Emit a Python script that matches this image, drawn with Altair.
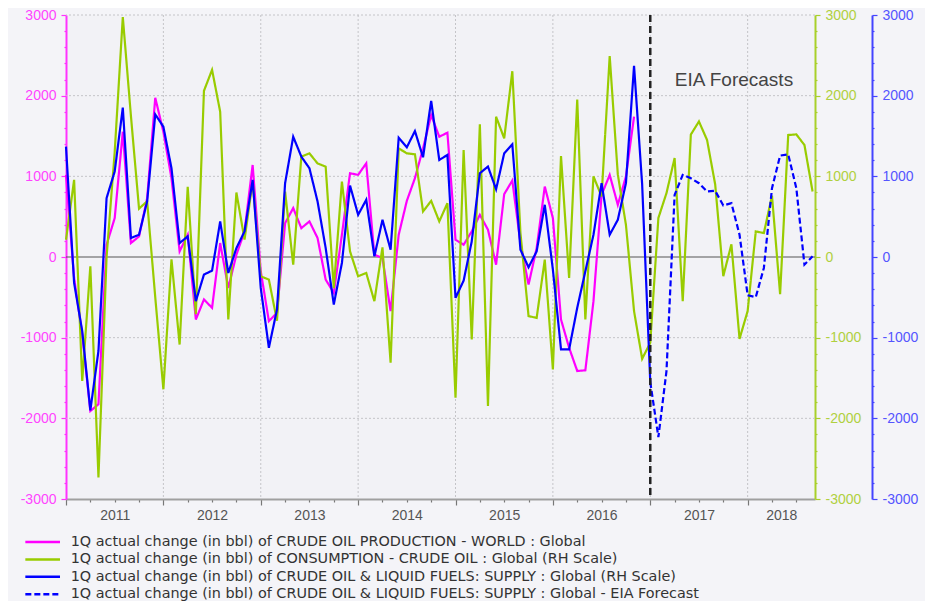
import altair as alt
import pandas as pd

# month index 0 = Jan 2011
production = [1018, -260, -960, -1910, -1825, 152, 482, 1553, 173, 255,
              729, 1973, 1553, 977, 70, 276, -775, -527, -630, 173,
              -383, 29, 317, 1141, -177, -795, -692, 420, 606, 358,
              441, 235, -280, -445, 276, 1038, 1018, 1162, 29, -12,
              -672, 276, 696, 977, 1347, 1759, 1491, 1541, 214, 152,
              317, 523, 338, -95, 779, 948, 173, -342, 111, 873,
              482, -775, -1125, -1413, -1405, -548, 770, 1018, 647, 997,
              1739]
consumption = [214, 956, -1537, -115, -2732, 0, 1300, 2975, 1750, 600,
               690, -500, -1640, -30, -1085, 870, -710, 2060, 2320, 1800,
               -775, 800, 215, 935, -240, -280, -790, 810, -95, 1245,
               1285, 1160, 1120, -385, 935, 70, -239, -198, -548, 119,
               -1310, 1347, 1285, 1273, 564, 696, 441, 667, -1743, 1327,
               -1022, 1644, -1846, 1739, 1471, 2303, 300, -733, -754, -33,
               -1393, 1252, -260, 1953, -775, 1000, 750, 2490, 1024, 400,
               -670, -1262, -1063, 484, 793, 1226, -547, 1518, 1680, 1450,
               900, -237, 158, -1015, -670, 317, 297, 760, -460, 1512,
               1520, 1388, 812]
supply = [1368, -321, -919, -1900, -1165, 730, 1060, 1852, 235, 276,
          690, 1768, 1615, 1100, 173, 255, -548, -218, -169, 440,
          -198, 111, 317, 956, -383, -1125, -651, 915, 1491, 1244,
          1100, 688, 111, -589, -74, 886, 523, 709, 8, 461,
          91, 1479, 1360, 1561, 1236, 1936, 1203, 1265, -507, -293,
          194, 1038, 1121, 840, 1285, 1397, 91, -128, 70, 647,
          -157, -1145, -1145, -630, -177, 276, 915, 276, 461, 915,
          2369, 900, -1550]
forecast_start = 72
supply_forecast = [-1550, -2233, -1413, 770, 1018, 976, 915, 812, 820, 639,
                   667, 276, -474, -498, -136, 853, 1257, 1273, 853, -95, 8]

series_names = [
    "1Q actual change (in bbl) of CRUDE OIL PRODUCTION - WORLD : Global",
    "1Q actual change (in bbl) of CONSUMPTION - CRUDE OIL : Global (RH Scale)",
    "1Q actual change (in bbl) of CRUDE OIL & LIQUID FUELS: SUPPLY : Global (RH Scale)",
    "1Q actual change (in bbl) of CRUDE OIL & LIQUID FUELS: SUPPLY : Global - EIA Forecast",
]
series_colors = ["#ff00ff", "#99cc00", "#0000ff", "#0000ff"]
series_dashes = [[1, 0], [1, 0], [1, 0], [6, 3]]

annotation_text = ["EIA Forecasts"]
annotation_t = [2017.86]
annotation_v = [2200]
forecast_line_t = [2017.0]
grid_years = [2012, 2013, 2014, 2015, 2016, 2017, 2018]
grid_values = [-2000, -1000, 1000, 2000, 3000]

START = 2011


def to_t(i):
    return START + i / 12.0


rows = []
for i, v in enumerate(production):
    rows.append({"t": to_t(i), "value": v, "series": series_names[0]})
for i, v in enumerate(consumption):
    rows.append({"t": to_t(i), "value": v, "series": series_names[1]})
for i, v in enumerate(supply):
    rows.append({"t": to_t(i), "value": v, "series": series_names[2]})
for k, v in enumerate(supply_forecast):
    rows.append({"t": to_t(forecast_start + k), "value": v, "series": series_names[3]})
df = pd.DataFrame(rows)

ann_df = pd.DataFrame({"t": annotation_t, "value": annotation_v, "text": annotation_text})
fl_df = pd.DataFrame({"t": forecast_line_t})
zero_df = pd.DataFrame({"value": [0]})
vgrid_df = pd.DataFrame({"t": grid_years})
hgrid_df = pd.DataFrame({"value": grid_values})

FONT = "Liberation Sans"
LEGEND_FONT = "DejaVu Sans"

x_vals = [START + q / 4 for q in range(31)]
x_axis = alt.Axis(
    values=x_vals,
    labelExpr="(datum.value % 1) == 0.5 ? floor(datum.value) : ''",
    title=None,
    labelOverlap=False,
    labelFlush=False,
    labelColor="#555555",
    labelFontSize=14,
    labelFont=FONT,
    labelPadding=6,
    labelOffset={"condition": {"test": "datum.value > 2018.4", "value": -15}, "value": 0},
    domainColor="#a0a0a0",
    domainWidth=2,
    tickColor="#777777",
    tickWidth=1.2,
    tickSize={"condition": {"test": "(datum.value % 1) == 0", "value": 6}, "value": 3},
    grid=False,
)
x_enc = alt.X("t:Q", scale=alt.Scale(domain=[START, START + 92.3 / 12], nice=False, zero=False), axis=x_axis)

y_vals = list(range(-3000, 3001, 200))
y_scale = alt.Scale(domain=[-3000, 3000], nice=False)


def y_axis(orient, color, label_color, offset=0):
    return alt.Axis(
        orient=orient,
        values=y_vals,
        labelExpr="datum.value % 1000 == 0 ? datum.value : ''",
        title=None,
        labelOverlap=False,
        labelFlush=False,
        labelColor=label_color,
        labelFontSize=14,
        labelFont=FONT,
        labelPadding=5,
        domainColor=color,
        domainWidth=2,
        tickColor=color,
        tickWidth=1.2,
        tickSize={"condition": {"test": "datum.value % 1000 == 0", "value": 5}, "value": 2},
        offset=offset,
        grid=False,
    )


legend = alt.Legend(
    title=None,
    orient="none",
    legendX=-42,
    legendY=517,
    direction="vertical",
    symbolType="M-2,0L2,0",
    symbolSize=300,
    symbolOffset=8.66,
    symbolStrokeWidth=2.5,
    labelFont=LEGEND_FONT,
    labelFontSize=14.4,
    labelColor="#333333",
    labelLimit=900,
    labelOffset=18,
    rowPadding=0.4,
    padding=0,
)
color_enc = alt.Color("series:N", scale=alt.Scale(domain=series_names, range=series_colors), legend=legend)
dash_enc = alt.StrokeDash("series:N", scale=alt.Scale(domain=series_names, range=series_dashes), legend=legend)

base = alt.Chart(df)

vgrid_layer = alt.Chart(vgrid_df).mark_rule(color="#c4c4c8", strokeDash=[2, 2], strokeWidth=1).encode(x=x_enc)
hgrid_layer = alt.Chart(hgrid_df).mark_rule(color="#c4c4c8", strokeDash=[2, 2], strokeWidth=1).encode(
    y=alt.Y("value:Q", scale=y_scale, axis=None)
)
zero_layer = alt.Chart(zero_df).mark_rule(color="#555555", strokeWidth=1.2).encode(
    y=alt.Y("value:Q", scale=y_scale, axis=None)
)

prod_layer = base.transform_filter(alt.datum.series == series_names[0]).mark_line(strokeWidth=2.2).encode(
    x=x_enc,
    y=alt.Y("value:Q", scale=y_scale, axis=y_axis("left", "#ff33ff", "#ff44ff")),
    color=color_enc,
    strokeDash=dash_enc,
)
cons_layer = base.transform_filter(alt.datum.series == series_names[1]).mark_line(strokeWidth=2.2).encode(
    x=x_enc,
    y=alt.Y("value:Q", scale=y_scale, axis=y_axis("right", "#a8d02a", "#b0d040")),
    color=color_enc,
    strokeDash=dash_enc,
)
sup_layer = base.transform_filter(
    (alt.datum.series == series_names[2]) | (alt.datum.series == series_names[3])
).mark_line(strokeWidth=2.2).encode(
    x=x_enc,
    y=alt.Y("value:Q", scale=y_scale, axis=y_axis("right", "#4444ff", "#5555ff", offset=57)),
    color=color_enc,
    strokeDash=dash_enc,
)

fl_layer = alt.Chart(fl_df).mark_rule(color="#222222", strokeWidth=2.5, strokeDash=[7, 4]).encode(x=x_enc)

ann_layer = alt.Chart(ann_df).mark_text(
    font=FONT, fontSize=19, color="#444444", align="center", baseline="middle"
).encode(
    x=x_enc,
    y=alt.Y("value:Q", scale=y_scale, axis=None),
    text="text:N",
)

chart = alt.layer(
    vgrid_layer, hgrid_layer, zero_layer, prod_layer, cons_layer, sup_layer, fl_layer, ann_layer
).resolve_scale(
    y="independent"
).properties(
    width=749,
    height=484,
    padding={"left": 58, "top": 7, "right": 110, "bottom": 102},
    autosize=alt.AutoSizeParams(type="none"),
    background="#f4f4f8",
).configure_view(
    stroke=None,
    fill="#f2f2f6",
)

chart.save("out.html", embed_options={"renderer": "svg", "actions": False})
